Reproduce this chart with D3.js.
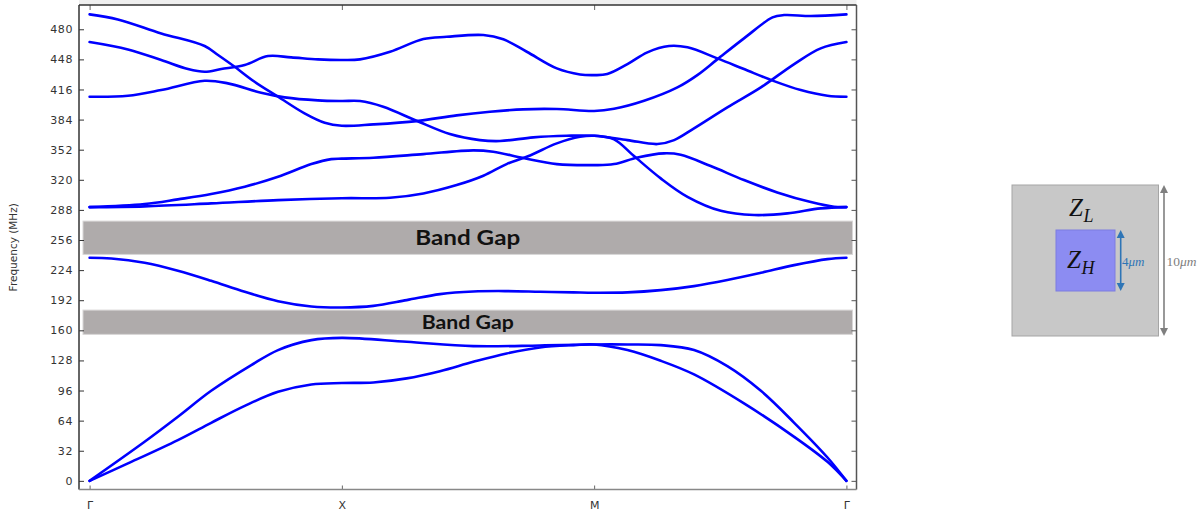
<!DOCTYPE html>
<html>
<head>
<meta charset="utf-8">
<script src="https://cdn.jsdelivr.net/npm/d3@7"></script>
<style>
  html, body { margin: 0; padding: 0; background: #fff; }
  svg { display: block; }
</style>
</head>
<body>
<svg id="chart" width="1204" height="513"></svg>
<script>
// Symmetry points along the Brillouin-zone path
const kPoints = [0, 1, 2, 3];
const kLabels = ["Γ", "X", "M", "Γ"];

// Frequency axis ticks (MHz)
const freqTicks = [0, 32, 64, 96, 128, 160, 192, 224, 256, 288, 320, 352, 384, 416, 448, 480];

// Band gaps shaded on the chart: [low, high] in MHz
const gapUpper = [240.7, 276.1];
const gapLower = [155.7, 181.5];
const gapLabel = "Band Gap";

// Dispersion branches: [k, frequency in MHz]
const band1 = [[0,0],[0.152,18.5],[0.350,43.3],[0.482,61.7],[0.615,79.7],[0.747,94.6],[0.879,102.5],[1,104],
  [1.125,104.6],[1.257,108.9],[1.389,116.6],[1.521,126.5],[1.653,135.4],[1.785,141.8],[1.918,144.3],[2,145],
  [2.132,139],[2.264,127.6],[2.396,113.1],[2.594,82.3],[2.793,46.8],[2.925,20.2],[3,0]];

const band2 = [[0,0],[0.218,41.5],[0.350,68.1],[0.482,95.7],[0.641,123],[0.747,139],[0.879,149.6],[1,152],
  [1.257,147.8],[1.521,143.2],[1.785,143.9],[2,145],
  [2.132,145],[2.264,144.3],[2.396,139],[2.528,121.9],[2.661,95.7],[2.793,61.7],[2.925,24.8],[3,0]];

const band3 = [[0,237.1],[0.086,236.4],[0.218,231.8],[0.350,223.3],[0.482,212.6],[0.615,200.9],[0.747,191],[0.879,185.4],[1,184.3],
  [1.125,186],[1.257,192.1],[1.389,198.5],[1.521,201.3],[1.653,201.7],[1.785,201],[1.918,200.3],[2,199.9],
  [2.132,200.3],[2.264,202.7],[2.396,207],[2.528,213.4],[2.661,221.1],[2.793,229.3],[2.925,235.7],[3,237.1]];

const band4 = [[0,291],[0.218,291.8],[0.482,294.9],[0.747,298.4],[1,300.4],
  [1.191,300.9],[1.323,305.5],[1.455,314.4],[1.561,324.3],[1.653,336.7],[1.746,345.9],[1.852,358.7],[1.944,365.7],[2,366.8],
  [2.079,363],[2.158,345.2],[2.264,321.5],[2.370,301.9],[2.502,287],[2.634,282.5],[2.766,284.3],[2.898,289.6],[3,291]];

const band5 = [[0,291],[0.218,294.2],[0.350,299.2],[0.482,304.8],[0.615,312.6],[0.747,323.2],[0.879,336.7],[0.958,342],[1,342.5],
  [1.125,343.4],[1.323,347.3],[1.521,351.3],[1.600,349.8],[1.719,343.1],[1.852,336.7],[2,335.6],
  [2.079,336.7],[2.172,343.8],[2.277,348.1],[2.343,346.6],[2.462,334.6],[2.594,319.7],[2.726,306.6],[2.859,296.3],[2.951,291.3],[3,291]];

const band6 = [[0,408.3],[0.152,409.3],[0.284,415.4],[0.456,425.3],[0.548,422.5],[0.680,412.5],[0.773,407.6],[0.905,404.4],[1,403.7],
  [1.072,403.7],[1.164,397.6],[1.296,382.7],[1.428,368.6],[1.547,362.2],[1.627,361.2],[1.759,365.1],[1.891,366.8],[2,366.8],
  [2.132,362.2],[2.251,358],[2.317,362.2],[2.396,374.7],[2.528,397],[2.661,418.2],[2.793,443],[2.898,459.7],[3,466.4]];

const band7 = [[0,495.8],[0.112,490.5],[0.284,475.6],[0.456,462.2],[0.509,452.6],[0.575,440.1],[0.654,424.2],[0.747,408.3],[0.852,390.6],[0.932,380.6],[1,377.4],
  [1.125,378.9],[1.296,382.4],[1.455,388.5],[1.587,392.3],[1.719,394.9],[1.852,395.2],[2,393.1],
  [2.079,395.5],[2.198,404],[2.330,418.2],[2.409,431.3],[2.488,448],[2.594,470.3],[2.707,492.6],[2.753,495.1],[2.859,494.1],[3,495.8]];

const band8 = [[0,466.4],[0.152,458.6],[0.284,447.3],[0.390,437.7],[0.456,434.8],[0.522,437.7],[0.615,442],[0.707,451.5],[0.799,450.1],[0.905,448],[1,447.3],
  [1.072,448],[1.191,456.1],[1.323,469.6],[1.416,472],[1.561,473.9],[1.640,469.3],[1.733,456.1],[1.852,438.4],[1.944,432],[2,431.3],
  [2.052,432.4],[2.132,443],[2.211,455.5],[2.297,462.2],[2.370,460.8],[2.488,449.1],[2.594,437.7],[2.713,424.9],[2.819,415.4],[2.925,409.3],[3,408.3]];

const bands = [band1, band2, band3, band4, band5, band6, band7, band8];

// ---- layout ----
const svg = d3.select("#chart");
const frame = { left: 79, right: 856.5, top: 5, bottom: 489.5 };

const x = d3.scaleLinear().domain([-0.042, 3.04]).range([frame.left, frame.right]);
const y = d3.scaleLinear().domain([-9.2, 505.8]).range([frame.bottom, frame.top]);

const axisColor = "#333";
const tickFont = "'DejaVu Sans', sans-serif";

// faint strip above the plot frame
svg.append("rect")
  .attr("x", frame.left).attr("y", 0)
  .attr("width", frame.right - frame.left).attr("height", frame.top)
  .attr("fill", "#efefef");

// shaded band-gap regions
const gapG = svg.append("g");
[[gapUpper, 21.5, 105], [gapLower, 19.5, 92]].forEach(([g, fs, w]) => {
  const y0 = y(g[1]), y1 = y(g[0]);
  gapG.append("rect")
    .attr("x", frame.left + 4).attr("y", y0)
    .attr("width", frame.right - frame.left - 8).attr("height", y1 - y0)
    .attr("fill", "#afabab").attr("stroke", "#d8d6d6").attr("stroke-width", 1);
  gapG.append("text")
    .attr("x", (frame.left + frame.right) / 2)
    .attr("y", (y0 + y1) / 2 + fs * 0.36)
    .attr("text-anchor", "middle")
    .attr("font-family", "Lato, 'Open Sans', sans-serif")
    .attr("font-weight", "bold")
    .attr("font-size", fs)
    .attr("textLength", w)
    .attr("lengthAdjust", "spacingAndGlyphs")
    .attr("fill", "#111")
    .text(gapLabel);
});

// dispersion curves
const line = d3.line()
  .x(d => x(d[0]))
  .y(d => y(d[1]))
  .curve(d3.curveCatmullRom.alpha(0.5));

svg.append("g")
  .selectAll("path")
  .data(bands)
  .join("path")
  .attr("d", line)
  .attr("fill", "none")
  .attr("stroke", "#0000ff")
  .attr("stroke-width", 2.6)
  .attr("stroke-linejoin", "round")
  .attr("stroke-linecap", "round");

// left axis with inward ticks
const yAxis = d3.axisLeft(y).tickValues(freqTicks).tickSizeInner(-5).tickSizeOuter(0).tickPadding(6);
const gy = svg.append("g").attr("transform", `translate(${frame.left},0)`).call(yAxis);
gy.select(".domain").remove();
gy.selectAll(".tick line").attr("stroke", axisColor);
gy.selectAll(".tick text")
  .attr("font-family", tickFont).attr("font-size", 11)
  .attr("letter-spacing", "0.6px").attr("fill", axisColor);

// right axis ticks
const yAxisR = d3.axisRight(y).tickValues(freqTicks).tickSizeInner(-5).tickSizeOuter(0).tickFormat("");
const gyr = svg.append("g").attr("transform", `translate(${frame.right},0)`).call(yAxisR);
gyr.select(".domain").remove();
gyr.selectAll(".tick line").attr("stroke", "#555");

// bottom axis with symmetry-point labels
const xAxis = d3.axisBottom(x).tickValues(kPoints).tickFormat((d, i) => kLabels[i])
  .tickSizeInner(-4).tickSizeOuter(0).tickPadding(12);
const gx = svg.append("g").attr("transform", `translate(0,${frame.bottom})`).call(xAxis);
gx.select(".domain").remove();
gx.selectAll(".tick line").attr("stroke", "#666");
gx.selectAll(".tick text").attr("font-family", tickFont).attr("font-size", 11).attr("fill", axisColor);

// top axis ticks
const xAxisT = d3.axisTop(x).tickValues(kPoints).tickFormat("").tickSizeInner(-5).tickSizeOuter(0);
const gxt = svg.append("g").attr("transform", `translate(0,${frame.top})`).call(xAxisT);
gxt.select(".domain").remove();
gxt.selectAll(".tick line").attr("stroke", "#666");

// frame
const fr = svg.append("g").attr("fill", "none").attr("stroke-width", 1.5);
fr.append("line").attr("x1", frame.left).attr("x2", frame.left).attr("y1", frame.top).attr("y2", frame.bottom).attr("stroke", "#333");
fr.append("line").attr("x1", frame.left).attr("x2", frame.right).attr("y1", frame.top).attr("y2", frame.top).attr("stroke", "#333");
fr.append("line").attr("x1", frame.right).attr("x2", frame.right).attr("y1", frame.top).attr("y2", frame.bottom).attr("stroke", "#555");
fr.append("line").attr("x1", frame.left).attr("x2", frame.right).attr("y1", frame.bottom).attr("y2", frame.bottom).attr("stroke", "#888");

// y axis title
svg.append("text")
  .attr("transform", `translate(16.5,${(frame.top + frame.bottom) / 2}) rotate(-90)`)
  .attr("text-anchor", "middle")
  .attr("font-family", tickFont).attr("font-size", 10.5).attr("fill", axisColor)
  .text("Frequency (MHz)");

// ---- unit cell sketch ----
const cell = svg.append("g");
const serif = "'Liberation Serif', 'DejaVu Serif', serif";

cell.append("rect").attr("x", 1012).attr("y", 185).attr("width", 146.5).attr("height", 151)
  .attr("fill", "#c8c8c8").attr("stroke", "#a5a5a5").attr("stroke-width", 1);
cell.append("rect").attr("x", 1056).attr("y", 230).attr("width", 59).attr("height", 61)
  .attr("fill", "#8c8cf2").attr("stroke", "#7d7de0").attr("stroke-width", 1);

function subLabel(xp, yp, main, sub) {
  const t = cell.append("text").attr("x", xp).attr("y", yp)
    .attr("font-family", serif).attr("font-style", "italic").attr("fill", "#111");
  t.append("tspan").attr("font-size", 25).text(main);
  t.append("tspan").attr("font-size", 18).attr("dy", 6.5).attr("dx", 0.5).text(sub);
}
subLabel(1069, 215.5, "Z", "L");
subLabel(1067, 267.5, "Z", "H");

function dimArrow(xp, y0, y1, color) {
  const h = 8, w = 4;
  cell.append("line").attr("x1", xp).attr("x2", xp).attr("y1", y0 + h - 1).attr("y2", y1 - h + 1)
    .attr("stroke", color).attr("stroke-width", 1.6);
  cell.append("path").attr("d", `M${xp},${y0} L${xp - w},${y0 + h} L${xp + w},${y0 + h} Z`).attr("fill", color);
  cell.append("path").attr("d", `M${xp},${y1} L${xp - w},${y1 - h} L${xp + w},${y1 - h} Z`).attr("fill", color);
}
dimArrow(1120.7, 230, 291, "#2e75b6");
dimArrow(1164, 185, 336, "#7f7f7f");

const t4 = cell.append("text").attr("x", 1122).attr("y", 266)
  .attr("font-family", serif).attr("font-size", 13).attr("fill", "#2e75b6");
t4.append("tspan").text("4");
t4.append("tspan").attr("font-style", "italic").text("μm");

const t10 = cell.append("text").attr("x", 1166.5).attr("y", 266)
  .attr("font-family", serif).attr("font-size", 13.5).attr("fill", "#808080");
t10.append("tspan").text("10");
t10.append("tspan").attr("font-style", "italic").text("μm");
</script>
</body>
</html>
